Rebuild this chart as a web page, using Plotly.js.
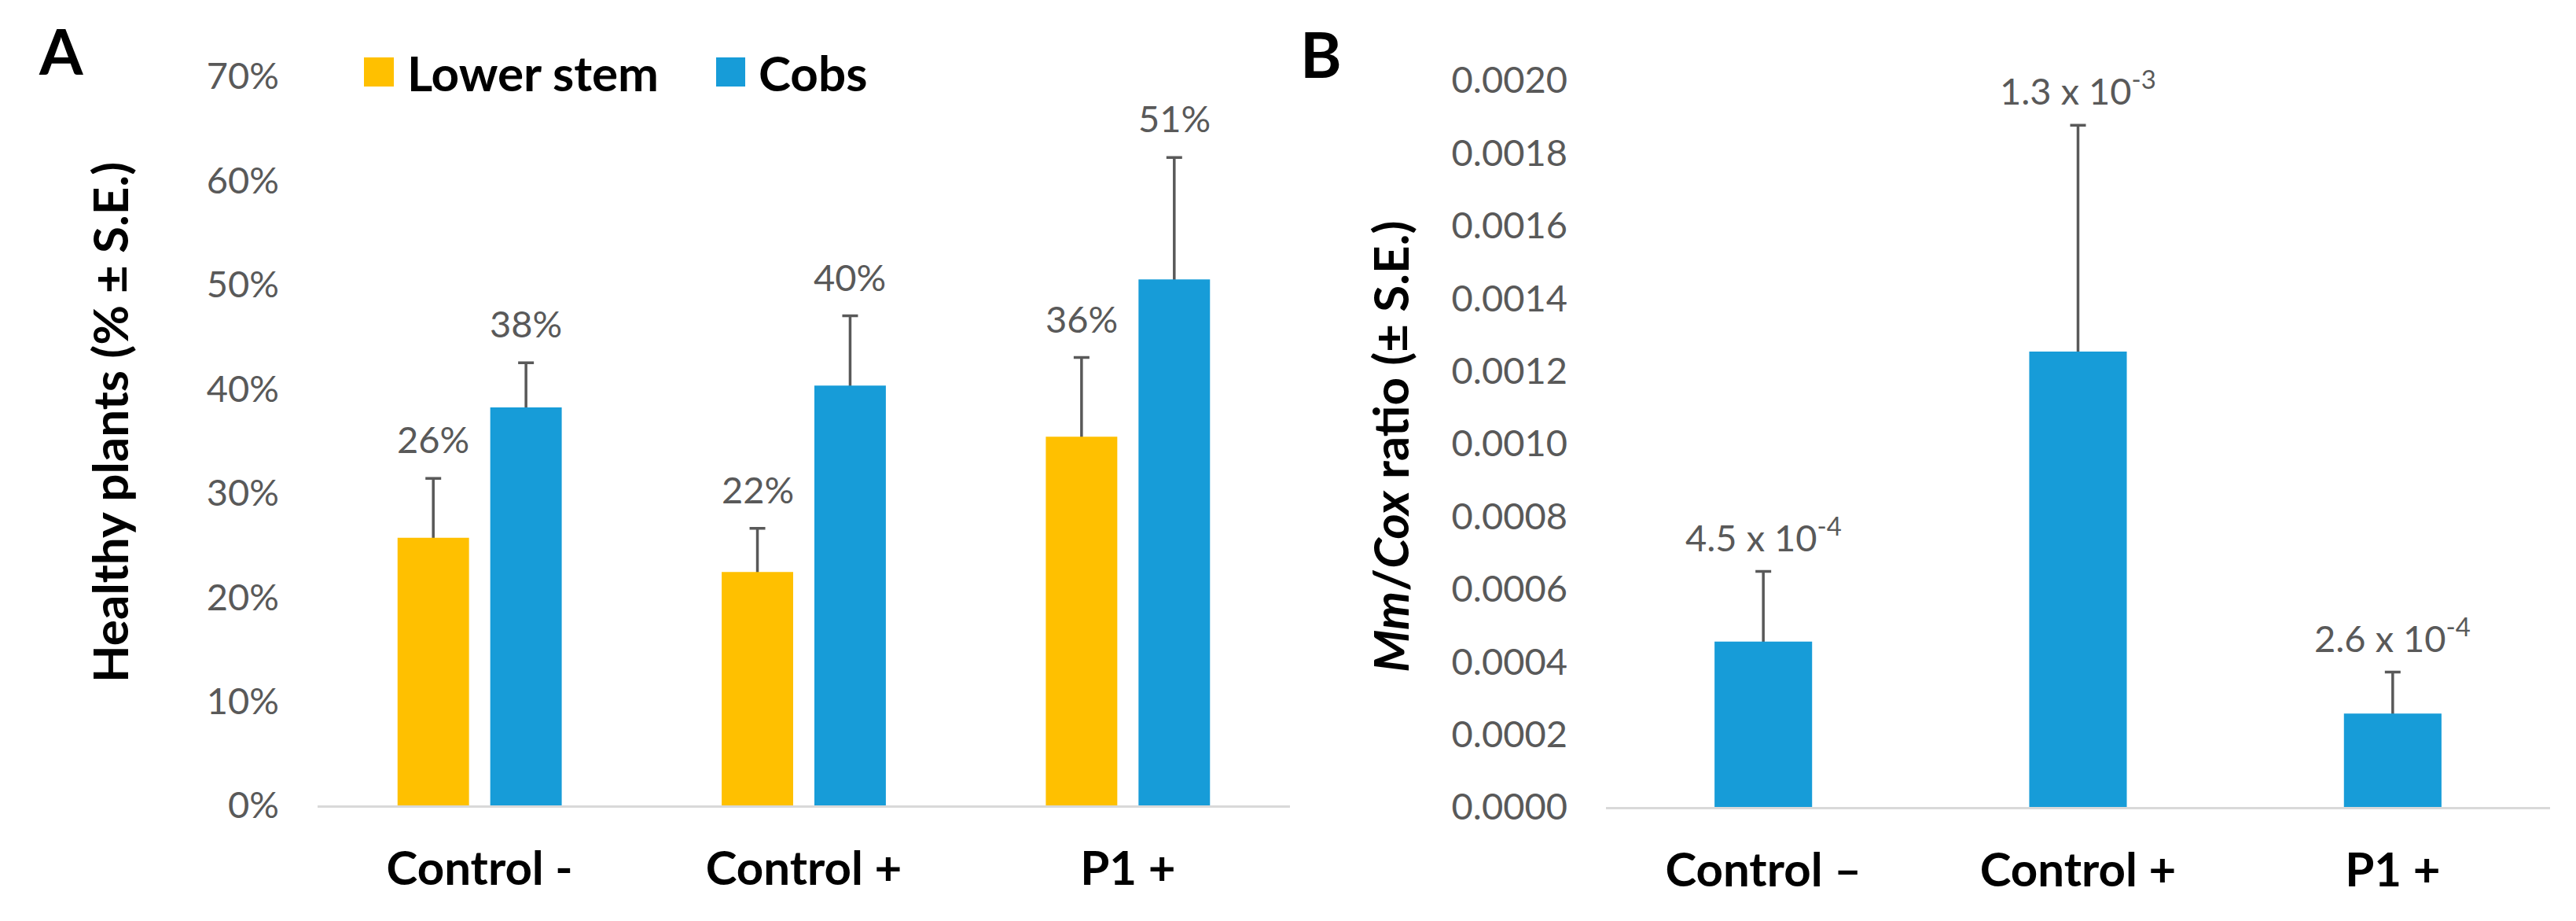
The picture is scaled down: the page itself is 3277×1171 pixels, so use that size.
<!DOCTYPE html>
<html>
<head>
<meta charset="utf-8">
<script src="https://cdn.plot.ly/plotly-3.0.1.min.js"></script>
<style>html,body{margin:0;padding:0;background:#fff;}#chart{width:3277px;height:1171px;}</style>
</head>
<body>
<div id="chart"></div>
<script>
// ---------- data ----------
const categoriesA = ['Control -', 'Control +', 'P1 +'];
const seriesNames = ['Lower stem', 'Cobs'];
const lowerStem = [25.7, 22.4, 35.4];
const lowerStemSE = [5.7, 4.2, 7.6];
const cobs = [38.2, 40.3, 50.5];
const cobsSE = [4.3, 6.7, 11.7];
const lowerStemLabels = ['26%', '22%', '36%'];
const cobsLabels = ['38%', '40%', '51%'];
const ticksA = [0, 10, 20, 30, 40, 50, 60, 70];
const tickTextA = ['0%', '10%', '20%', '30%', '40%', '50%', '60%', '70%'];

const categoriesB = ['Control \u2013', 'Control +', 'P1 +'];
const ratio = [0.000455, 0.001253, 0.000257];
const ratioSE = [0.000193, 0.000623, 0.000114];
const ratioLabels = ['4.5 x 10<sup>-4</sup>', '1.3 x 10<sup>-3</sup>', '2.6 x 10<sup>-4</sup>'];
const ticksB = [0, 0.0002, 0.0004, 0.0006, 0.0008, 0.0010, 0.0012, 0.0014, 0.0016, 0.0018, 0.0020];

// ---------- styles ----------
const W = 3277, H = 1171;
const YELLOW = '#FFC000', BLUE = '#179CD8', GREY = '#595959', AXIS = '#D9D9D9';
const FONT = 'Lato, "Open Sans", sans-serif';
const rangeA = [0, 70], rangeB = [0, 0.002];
const bargap = 0.428, bargroupgap = 0.229, widthB = 0.31;
const px = v => v / W, py = v => 1 - v / H;
const epsA = 0.004 * (rangeA[1] - rangeA[0]);
const epsB = 0.004 * (rangeB[1] - rangeB[0]);

function errSpec(se, eps) {
  return {type: 'data', symmetric: false, array: se, arrayminus: se.map(() => eps),
          color: GREY, thickness: 3.5, width: 10};
}
const clear = 'rgba(0,0,0,0)';

const traces = [
  // error-bar carriers (transparent bars, hidden under the visible ones)
  {type: 'bar', x: categoriesA, y: lowerStem, xaxis: 'x', yaxis: 'y', offsetgroup: 'ls',
   marker: {color: clear}, error_y: errSpec(lowerStemSE, epsA), hoverinfo: 'skip', showlegend: false},
  {type: 'bar', x: categoriesA, y: cobs, xaxis: 'x', yaxis: 'y', offsetgroup: 'cb',
   marker: {color: clear}, error_y: errSpec(cobsSE, epsA), hoverinfo: 'skip', showlegend: false},
  {type: 'bar', x: categoriesB, y: ratio, xaxis: 'x2', yaxis: 'y2', offsetgroup: 'r', width: widthB,
   marker: {color: clear}, error_y: errSpec(ratioSE, epsB), hoverinfo: 'skip', showlegend: false},
  // visible bars
  {type: 'bar', name: seriesNames[0], x: categoriesA, y: lowerStem, xaxis: 'x', yaxis: 'y',
   offsetgroup: 'ls', marker: {color: YELLOW}, showlegend: false},
  {type: 'bar', name: seriesNames[1], x: categoriesA, y: cobs, xaxis: 'x', yaxis: 'y',
   offsetgroup: 'cb', marker: {color: BLUE}, showlegend: false},
  {type: 'bar', name: 'Mm/Cox ratio', x: categoriesB, y: ratio, xaxis: 'x2', yaxis: 'y2',
   offsetgroup: 'r', width: widthB, marker: {color: BLUE}, showlegend: false}
];

const annotations = [];
const d = (1 - bargap) / 4;
categoriesA.forEach((c, i) => {
  annotations.push({xref: 'x', yref: 'y', x: i - d, y: lowerStem[i] + lowerStemSE[i], text: lowerStemLabels[i],
    showarrow: false, yanchor: 'middle', yshift: 50, font: {family: FONT, size: 47, color: GREY}});
  annotations.push({xref: 'x', yref: 'y', x: i + d, y: cobs[i] + cobsSE[i], text: cobsLabels[i],
    showarrow: false, yanchor: 'middle', yshift: 50, font: {family: FONT, size: 47, color: GREY}});
});
categoriesB.forEach((c, i) => {
  annotations.push({xref: 'x2', yref: 'y2', x: c, y: ratio[i] + ratioSE[i], text: ratioLabels[i],
    showarrow: false, yanchor: 'middle', yshift: 47, font: {family: FONT, size: 47, color: GREY}});
});
// panel letters
annotations.push({xref: 'paper', yref: 'paper', x: px(77), y: py(64), text: 'A', showarrow: false,
  xanchor: 'center', yanchor: 'middle', font: {family: FONT, size: 80, color: '#000', weight: 'bold'}});
annotations.push({xref: 'paper', yref: 'paper', x: px(1681), y: py(68), text: 'B', showarrow: false,
  xanchor: 'center', yanchor: 'middle', font: {family: FONT, size: 80, color: '#000', weight: 'bold'}});
// axis titles
annotations.push({xref: 'paper', yref: 'paper', x: px(139), y: py(537), text: 'Healthy plants (% \u00b1 S.E.)',
  textangle: -90, showarrow: false, xanchor: 'center', yanchor: 'middle',
  font: {family: FONT, size: 62, color: '#000', weight: 'bold'}});
annotations.push({xref: 'paper', yref: 'paper', x: px(1768), y: py(568), text: '<i>Mm</i>/<i>Cox</i> ratio (\u00b1 S.E.)',
  textangle: -90, showarrow: false, xanchor: 'center', yanchor: 'middle',
  font: {family: FONT, size: 62, color: '#000', weight: 'bold'}});
// legend text
annotations.push({xref: 'paper', yref: 'paper', x: px(516), y: py(92), text: seriesNames[0], showarrow: false,
  xanchor: 'left', yanchor: 'middle', font: {family: FONT, size: 62, color: '#000', weight: 'bold'}});
annotations.push({xref: 'paper', yref: 'paper', x: px(963), y: py(92), text: seriesNames[1], showarrow: false,
  xanchor: 'left', yanchor: 'middle', font: {family: FONT, size: 62, color: '#000', weight: 'bold'}});

const shapes = [
  {type: 'rect', xref: 'paper', yref: 'paper', x0: px(463), x1: px(501), y0: py(110), y1: py(73),
   fillcolor: YELLOW, line: {width: 0}},
  {type: 'rect', xref: 'paper', yref: 'paper', x0: px(911), x1: px(948), y0: py(110), y1: py(73),
   fillcolor: BLUE, line: {width: 0}}
];

const xBase = {type: 'category', showline: true, linecolor: AXIS, linewidth: 3, ticks: '', showgrid: false,
  zeroline: false, ticklabelstandoff: 26, fixedrange: true,
  tickfont: {family: FONT, size: 60, color: '#000', weight: 'bold'}};
const yBase = {showgrid: false, zeroline: false, showline: false, ticks: '', ticklabelstandoff: 48, fixedrange: true,
  tickfont: {family: FONT, size: 47, color: GREY}};

const layout = {
  width: W, height: H, margin: {l: 0, r: 0, t: 0, b: 0, pad: 0},
  paper_bgcolor: '#fff', plot_bgcolor: '#fff', font: {family: FONT},
  barmode: 'group', bargap: bargap, bargroupgap: bargroupgap, showlegend: false,
  xaxis: Object.assign({}, xBase, {domain: [px(404), px(1641)], anchor: 'y'}),
  yaxis: Object.assign({}, yBase, {domain: [py(1024), py(97)], range: rangeA, tickvals: ticksA, ticktext: tickTextA, anchor: 'x'}),
  xaxis2: Object.assign({}, xBase, {domain: [px(2043), px(3244)], anchor: 'y2'}),
  yaxis2: Object.assign({}, yBase, {domain: [py(1026), py(102)], range: rangeB, tickvals: ticksB, tickformat: '.4f', anchor: 'x2'}),
  annotations: annotations, shapes: shapes
};

Plotly.newPlot('chart', traces, layout, {displayModeBar: false, staticPlot: true});
</script>
</body>
</html>
